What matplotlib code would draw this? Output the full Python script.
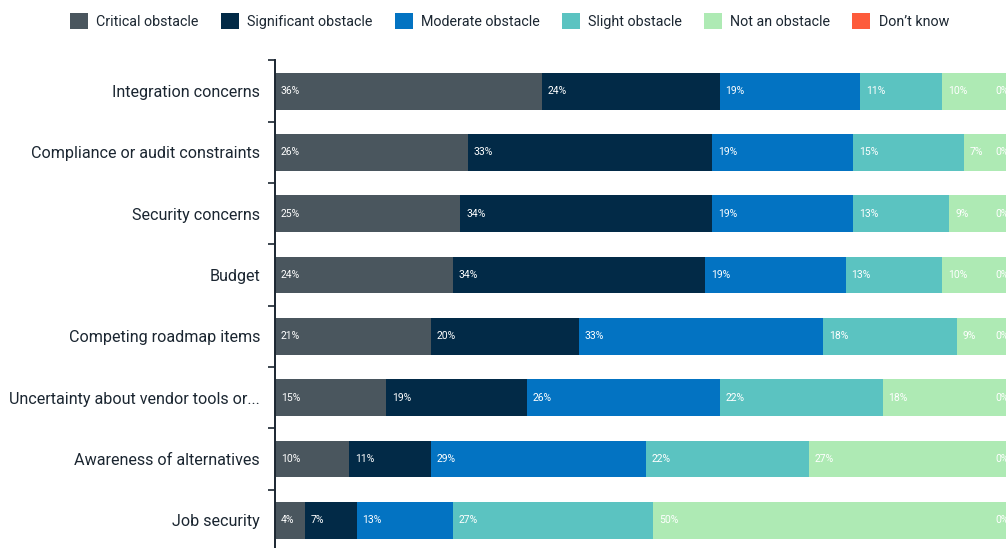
import matplotlib.pyplot as plt
from matplotlib.patches import Patch

plt.rcParams['font.family'] = ['Roboto', 'DejaVu Sans']

# Survey responses per obstacle (percent of respondents)
categories = [
    "Integration concerns",
    "Compliance or audit constraints",
    "Security concerns",
    "Budget",
    "Competing roadmap items",
    "Uncertainty about vendor tools or...",
    "Awareness of alternatives",
    "Job security",
]
series_names = ["Critical obstacle", "Significant obstacle", "Moderate obstacle",
                "Slight obstacle", "Not an obstacle", "Don\u2019t know"]
critical = [36, 26, 25, 24, 21, 15, 10, 4]
significant = [24, 33, 34, 34, 20, 19, 11, 7]
moderate = [19, 19, 19, 19, 33, 26, 29, 13]
slight = [11, 15, 13, 13, 18, 22, 22, 27]
not_obstacle = [10, 7, 9, 10, 9, 18, 27, 50]
dont_know = [0, 0, 0, 0, 0, 0, 0, 0]

series = [critical, significant, moderate, slight, not_obstacle, dont_know]
colors = ["#4a565e", "#022a47", "#0373c2", "#5bc3c1", "#aeeab4", "#fd5b3b"]
text_color = "#1b2631"

fig = plt.figure(figsize=(10.06, 5.48), dpi=100)
ax = fig.add_axes([0.2734, -0.0055, 0.7366, 0.8951])

y = list(range(len(categories)))
left = [0] * len(categories)
for name, vals, color in zip(series_names, series, colors):
    ax.barh(y, vals, left=left, height=0.6, color=color, label=name)
    for i, (v, l) in enumerate(zip(vals, left)):
        if v > 0:
            ax.annotate(f"{v}%", (l, i), xytext=(4.2, 0), textcoords="offset points",
                        ha="left", va="center", color="white", fontsize=7.5)
        else:
            # empty segment: keep the label inside the plot area
            ax.annotate(f"{v}%", (100, i), xytext=(-5, 0), textcoords="offset points",
                        ha="right", va="center", color="white", fontsize=7.5)
    left = [a + b for a, b in zip(left, vals)]

ax.set_xlim(0, 100)
ax.set_ylim(len(categories) - 0.5, -0.5)
ax.set_yticks(y)
ax.set_yticklabels(categories, fontsize=11.6, color=text_color)
ax.tick_params(axis="y", which="major", length=0, pad=10.8)
ax.set_yticks([i - 0.5 for i in range(len(categories) + 1)], minor=True)
ax.tick_params(axis="y", which="minor", length=5, width=1.2, color=text_color)
ax.set_xticks([])
for side in ["top", "right", "bottom"]:
    ax.spines[side].set_visible(False)
ax.spines["left"].set_color(text_color)
ax.spines["left"].set_linewidth(1.4)

handles = [Patch(facecolor=c, edgecolor="none", label=n) for n, c in zip(series_names, colors)]
fig.legend(handles=handles, loc="center", bbox_to_anchor=(0.5065, 0.9617), ncol=6,
           frameon=False, fontsize=10.3, handlelength=1.27, handleheight=1.27,
           handletextpad=0.56, columnspacing=1.55, labelcolor=text_color)

fig.savefig("out.png", dpi=100)
